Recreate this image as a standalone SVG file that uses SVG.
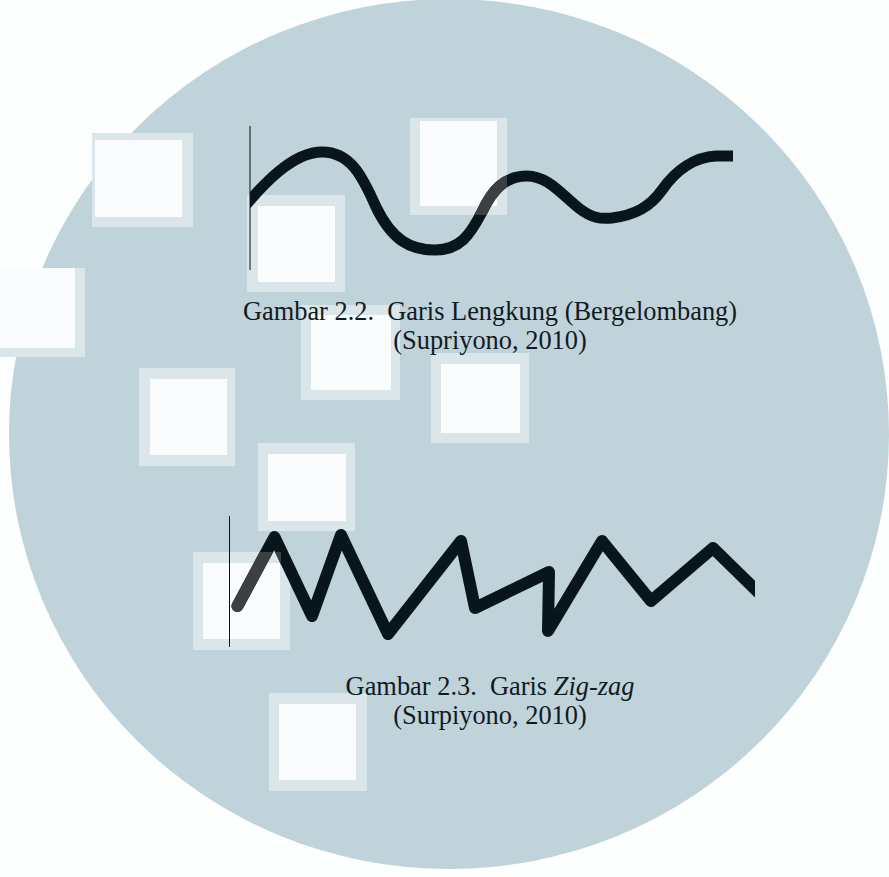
<svg xmlns="http://www.w3.org/2000/svg" width="889" height="877" viewBox="0 0 889 877">
  <style>
    .band { fill: #dbe6ea; }
    .hole { fill: #fbfcfd; }
    .cap { font-family: "Liberation Serif", "Times New Roman", serif; font-size: 26.4px; fill: #111b1f; text-anchor: middle; white-space: pre; }
    .thick { fill: none; stroke: #08161b; }
    .thickgray { fill: none; stroke: #3b4043; }
    .rule { stroke: #111; stroke-width: 1; }
  </style>
  <defs>
    <clipPath id="squaresClip">
      <rect x="410" y="118" width="97" height="97"/>
      <rect x="193" y="552" width="88" height="98"/>
    </clipPath>
    <clipPath id="waveClip"><rect x="250" y="100" width="483" height="200"/></clipPath>
    <clipPath id="zigClip"><rect x="200" y="500" width="555" height="160"/></clipPath>
    <path id="wavePath" d="M244,207 C262,186 292,152 322,152 C350,152 362,175 376,207 C392,240 410,250 435,250 C460,250 470,235 482,212 C492,190 505,176 527,176 C548,176 562,195 580,209 C592,218 600,219 612,218 C635,215 650,207 662,190 C676,170 695,157 716,156 L745,156"/>
    <path id="zigPath" d="M237.5,606 L274.5,537 L312,616 L341,535 L388,634 L461,541 L475,608 L549,572 L548,631 L602,541 L651,601 L713,548 L765,599"/>
  </defs>

  <rect x="0" y="0" width="889" height="877" fill="#fdfefe"/>

  <g id="watermark">
    <ellipse cx="449" cy="434" rx="440" ry="435" fill="#c0d3da"/>
    <rect x="0" y="268" width="85" height="89" class="band"/>
    <rect x="0" y="268" width="75" height="80" class="hole"/>
    <rect x="92" y="133" width="101" height="94" class="band"/>
    <rect x="95" y="140" width="87" height="77" class="hole"/>
    <g id="sq1"><rect x="410" y="118" width="97" height="97" class="band"/><rect x="420" y="121" width="77" height="85" class="hole"/></g>
    <g id="sq2"><rect x="247" y="195" width="98" height="97" class="band"/><rect x="258" y="206" width="77" height="76" class="hole"/></g>
    <g id="sq3"><rect x="301" y="305" width="99" height="95" class="band"/><rect x="311" y="315" width="80" height="75" class="hole"/></g>
    <g id="sq4"><rect x="431" y="353" width="98" height="90" class="band"/><rect x="441" y="364" width="79" height="69" class="hole"/></g>
    <g id="sq5"><rect x="139" y="368" width="96" height="98" class="band"/><rect x="150" y="379" width="77" height="76" class="hole"/></g>
    <g id="sq6"><rect x="258" y="443" width="97" height="88" class="band"/><rect x="268" y="454" width="78" height="67" class="hole"/></g>
    <g id="sq7"><rect x="193" y="552" width="97" height="98" class="band"/><rect x="203" y="563" width="77" height="76" class="hole"/></g>
    <g id="sq8"><rect x="269" y="693" width="98" height="98" class="band"/><rect x="279" y="704" width="77" height="76" class="hole"/></g>
  </g>

  <g id="figure-wave">
    <line x1="250" y1="126" x2="250" y2="270" class="rule"/>
    <g clip-path="url(#waveClip)">
      <use href="#wavePath" class="thick" stroke-width="11"/>
      <g clip-path="url(#squaresClip)"><use href="#wavePath" class="thickgray" stroke-width="11"/></g>
    </g>
  </g>

  <g id="caption-wave">
    <text x="490" y="320" class="cap">Gambar 2.2.  Garis Lengkung (Bergelombang)</text>
    <text x="490" y="349" class="cap">(Supriyono, 2010)</text>
  </g>

  <g id="figure-zigzag">
    <line x1="229.5" y1="516" x2="229.5" y2="647" class="rule"/>
    <g clip-path="url(#zigClip)">
      <use href="#zigPath" class="thick" stroke-width="12" stroke-linejoin="round" stroke-linecap="round"/>
      <g clip-path="url(#squaresClip)"><use href="#zigPath" class="thickgray" stroke-width="12" stroke-linejoin="round" stroke-linecap="round"/></g>
    </g>
  </g>

  <g id="caption-zigzag">
    <text x="490" y="695" class="cap">Gambar 2.3.  Garis <tspan font-style="italic">Zig-zag</tspan></text>
    <text x="490" y="724" class="cap">(Surpiyono, 2010)</text>
  </g>
</svg>
